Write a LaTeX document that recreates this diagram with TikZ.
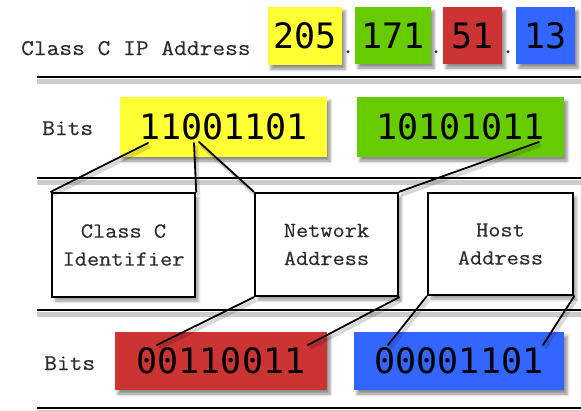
\documentclass[tikz,border=0pt]{standalone}
\usepackage{fontspec}
\newfontfamily\lblfont[FakeStretch=1.1,FakeBold=0.4]{Latin Modern Mono}
\newfontfamily\bitfont{DejaVu Sans Mono}
\usetikzlibrary{shadows.blur}
\definecolor{octyellow}{RGB}{255,255,51}
\definecolor{octgreen}{RGB}{102,204,0}
\definecolor{octred}{RGB}{204,51,51}
\definecolor{octblue}{RGB}{51,102,255}
\definecolor{lblgray}{RGB}{45,45,45}

\begin{document}
\begin{tikzpicture}[x=1pt,y=-1pt]
			\tikzset{
				octet/.style={inner sep=0pt, font=\bitfont\fontsize{35}{35}\selectfont,
					blur shadow={shadow xshift=3pt, shadow yshift=-4pt, shadow opacity=45, shadow blur radius=3pt}},
				lbl/.style={anchor=base west, inner sep=0pt, text=lblgray, font=\lblfont\fontsize{22.5}{24}\selectfont},
				part/.style={draw, line width=2.4pt, fill=white, align=center, inner sep=0pt, text=lblgray,
					font=\lblfont\fontsize{21.5}{28}\selectfont,
					blur shadow={shadow xshift=3pt, shadow yshift=-4pt, shadow opacity=40, shadow blur radius=3pt}},
				rule/.style={line width=2pt, preaction={draw=black, opacity=0.2, line width=5pt, transform canvas={yshift=-4pt}}},
				link/.style={line width=1.8pt, line cap=round, preaction={draw=black, opacity=0.15, line width=4pt, transform canvas={xshift=2pt, yshift=-3pt}}}
			}
			\useasboundingbox (0,0) rectangle (581,410);

			\draw[rule] (37,77) -- (581,77);
			\draw[rule] (37,178) -- (581,178);
			\draw[rule] (37,310) -- (581,310);
			\draw[rule] (37,408) -- (581,408);

			\node[lbl] (ipl) at (21,55) {Class C IP Address};
			\node[lbl] (bitl1) at (42,135) {Bits};
			\node[lbl] (bitl2) at (44,370) {Bits};

			\node[octet, fill=octyellow, minimum width=74pt, minimum height=58pt] (ip1) at (305,36) {205};
			\node[octet, fill=octgreen, minimum width=76pt, minimum height=57pt] (ip2) at (393,35.5) {171};
			\node[octet, fill=octred, minimum width=59pt, minimum height=57pt] (ip3) at (472.5,35.5) {51};
			\node[octet, fill=octblue, minimum width=59pt, minimum height=57pt] (ip4) at (545.5,35.5) {13};
			\foreach \x in {348,436,508}
				\node[lbl, anchor=base] at (\x,53) {.};

			\node[octet, fill=octyellow, minimum width=207pt, minimum height=60pt] (b1) at (223.5,127) {11001101};
			\node[octet, fill=octgreen, minimum width=207pt, minimum height=60pt] (b2) at (460.5,127) {10101011};
			\node[octet, fill=octred, minimum width=212pt, minimum height=58pt] (b3) at (221,361) {00110011};
			\node[octet, fill=octblue, minimum width=210pt, minimum height=58pt] (b4) at (459,361) {00001101};

			\node[part, minimum width=143pt, minimum height=104pt] (cid) at (123.5,245) {Class C\\Identifier};
			\node[part, minimum width=143pt, minimum height=103pt] (net) at (326.5,244.5) {Network\\Address};
			\node[part, minimum width=145pt, minimum height=102pt] (host) at (500.5,244) {Host\\Address};

			\coordinate (y1) at (148,143);
			\coordinate (y3) at (194,143);
			\coordinate (y3r) at (199,142);
			\coordinate (g8) at (539,142);
			\coordinate (r1) at (157,345);
			\coordinate (r8) at (308,345);
			\coordinate (u1) at (388,345);
			\coordinate (u8) at (543,345);

			\draw[link] (y1) -- (cid.north west);
			\draw[link] (y3) -- (cid.north east);
			\draw[link] (y3r) -- (net.north west);
			\draw[link] (g8) -- (net.north east);
			\draw[link] (net.south west) -- (r1);
			\draw[link] (net.south east) -- (r8);
			\draw[link] (host.south west) -- (u1);
			\draw[link] (host.south east) -- (u8);
		\end{tikzpicture}
\end{document}
